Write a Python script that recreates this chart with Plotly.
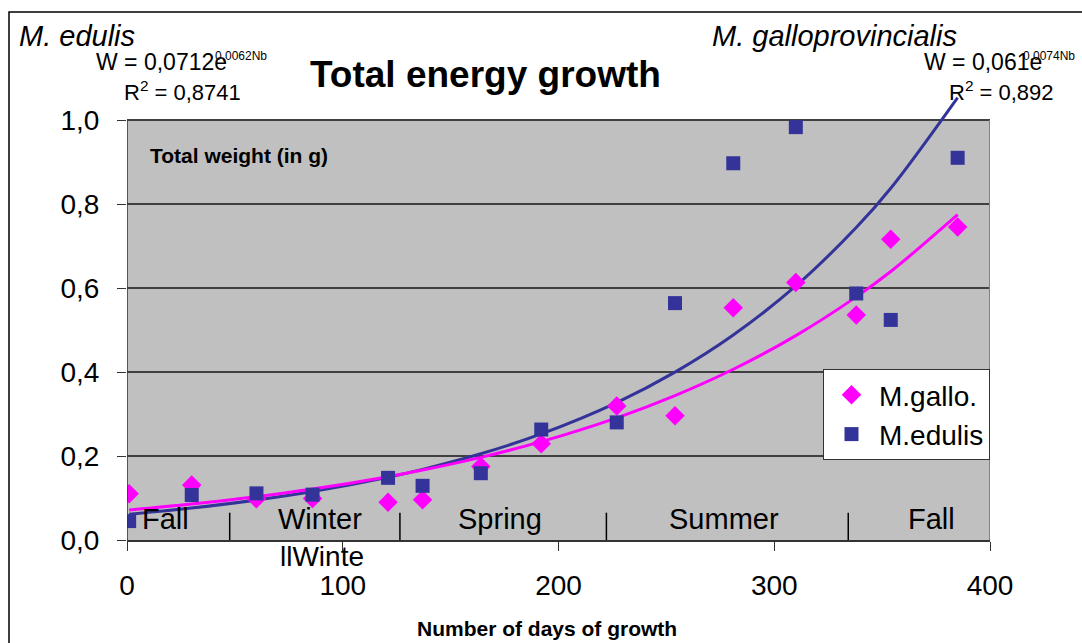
import numpy as np
import plotly.graph_objects as go

# days of growth at each sampling
days = [1, 30, 60, 86, 121, 137, 164, 192, 227, 254, 281, 310, 338, 354, 385]

# total weight (g)
gallo_w = [0.110, 0.131, 0.098, 0.099, 0.090, 0.096, 0.175, 0.229, 0.319, 0.296,
           0.553, 0.613, 0.536, 0.716, 0.745]
edulis_w = [0.045, 0.107, 0.111, 0.108, 0.148, 0.129, 0.159, 0.263, 0.280, 0.564,
            0.897, 0.983, 0.587, 0.524, 0.910]

# exponential trendlines as printed on the chart: W = a * e^(b*Nb)
gallo_fit = (0.0712, 0.0062)
edulis_fit = (0.061, 0.0074)

# season labels and boundaries (days)
seasons = ["Fall", "Winter", "Spring", "Summer", "Fall"]
season_mid = [18, 89.5, 173, 276.5, 373]
season_breaks = [47.6, 126.5, 222.2, 334.3]

NAVY = "#333399"
PINK = "#FF00FF"
FONT = "Liberation Sans, Arial, sans-serif"

W, H = 1082, 643
ML, MR, MT, MB = 127, 92, 78, 103   # plot area; y range runs to 1.1 so the trendline can overshoot


def px(x):
    return (x - ML) / (W - ML - MR)


def py(y):
    return (H - MB - y) / (H - MT - MB)


fig = go.Figure()

for (a, b), col in [(edulis_fit, NAVY), (gallo_fit, PINK)]:
    x = np.array(days, dtype=float)
    fig.add_trace(go.Scatter(
        x=x, y=a * np.exp(b * x), mode="lines", line=dict(color=col, width=3, shape="spline"),
        showlegend=False, hoverinfo="skip",
    ))

fig.add_trace(go.Scatter(
    x=days, y=gallo_w, mode="markers", name="M.gallo.",
    marker=dict(symbol="diamond", size=15, color=PINK),
))
fig.add_trace(go.Scatter(
    x=days, y=edulis_w, mode="markers", name="M.edulis",
    marker=dict(symbol="square", size=14, color=NAVY),
))

shapes = [
    # grey plot area, only up to 1.0
    dict(type="rect", xref="x", yref="y", x0=0, x1=400, y0=0, y1=1.0,
         fillcolor="#C0C0C0", line=dict(width=0), layer="below"),
    # outer frame (partly off-canvas)
    dict(type="rect", xref="paper", yref="paper", x0=px(9), x1=px(1200), y0=py(800), y1=py(12),
         line=dict(color="black", width=1.5), layer="below"),
    # y axis line and right edge
    dict(type="line", xref="x", yref="y", x0=0, x1=0, y0=0, y1=1.0,
         line=dict(color="#333333", width=1.5)),
    dict(type="line", xref="x", yref="y", x0=400, x1=400, y0=0, y1=1.0,
         line=dict(color="#808080", width=2)),
]
for xb in season_breaks:
    shapes.append(dict(type="line", xref="x", yref="y", x0=xb, x1=xb, y0=-0.01, y1=0.065,
                       line=dict(color="black", width=1.5)))


def note(x, y, text, size, xanchor="center", xref="paper", yref="paper"):
    return dict(x=x, y=y, xref=xref, yref=yref, text=text, showarrow=False,
                xanchor=xanchor, yanchor="middle", font=dict(size=size, color="black"))


annotations = [note(xm, 0.05, name, 29, xref="x", yref="y")
               for name, xm in zip(seasons, season_mid)]

annotations += [
    note(90.4, py(556), "llWinte", 28, xref="x"),
    note(px(17), py(36), "<i>M. edulis</i>", 29, xanchor="left"),
    note(px(94), py(62), "W = 0,0712e", 23, xanchor="left"),
    note(px(213), py(56), "0,0062Nb", 12, xanchor="left"),
    note(px(122), py(91), "R<sup>2</sup> = 0,8741", 22, xanchor="left"),
    note(px(485), py(75), "<b>Total energy growth</b>", 37),
    note(px(710), py(36), "<i>M. galloprovincialis</i>", 29, xanchor="left"),
    note(px(922), py(62), "W = 0,061e", 23, xanchor="left"),
    note(px(1021), py(56), "0,0074Nb", 12, xanchor="left"),
    note(px(947), py(91), "R<sup>2</sup> = 0,892", 22, xanchor="left"),
    note(px(148), py(155), "<b>Total weight (in g)</b>", 21, xanchor="left"),
    note(px(547), py(628), "<b>Number of days of growth</b>", 21),
]

fig.update_layout(
    width=W, height=H,
    margin=dict(l=ML, r=MR, t=MT, b=MB),
    paper_bgcolor="white", plot_bgcolor="white",
    font=dict(family=FONT, color="black"),
    separators=",.",
    showlegend=True,
    legend=dict(x=1, y=py(369), xanchor="right", yanchor="top", bgcolor="white",
                bordercolor="#333333", borderwidth=1, font=dict(size=28), itemwidth=45),
    xaxis=dict(range=[0, 400], dtick=100, showgrid=False, zeroline=False, showline=True,
               linecolor="#333333", linewidth=2, ticks="outside", ticklen=9, tickcolor="#333333",
               tickfont=dict(size=28), ticklabelstandoff=10),
    yaxis=dict(range=[0, 1.1], tickvals=[0, 0.2, 0.4, 0.6, 0.8, 1.0], tickformat=".1f",
               showgrid=True, gridcolor="#404040", gridwidth=1.5, zeroline=False, showline=False,
               ticks="outside", ticklen=9, tickcolor="#333333", tickfont=dict(size=28),
               ticklabelstandoff=12),
    shapes=shapes,
    annotations=annotations,
)

fig.write_html("out.html", config={"displayModeBar": False},
               post_script="document.body.style.margin='0';")
